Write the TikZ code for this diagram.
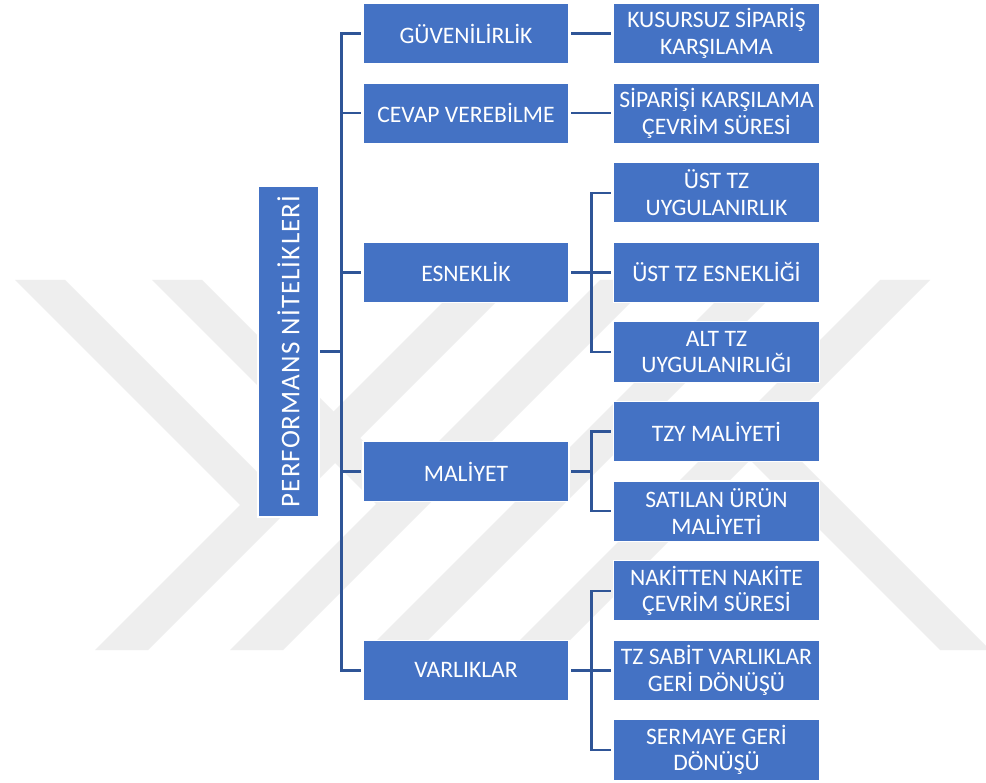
\documentclass[tikz,border=0pt]{standalone}
\usepackage{fontspec}
\setmainfont{Carlito}
\newfontfamily\rootfont[LetterSpace=4]{Carlito}
\definecolor{boxblue}{RGB}{68,114,196}
\definecolor{linkblue}{RGB}{47,85,151}
\definecolor{wm}{RGB}{238,238,238}
\tikzset{
  box/.style={fill=boxblue, draw=white, line width=1.2pt, text=white, align=center,
    inner sep=1pt, minimum width=206pt, minimum height=60.5pt,
    font=\fontsize{23.6}{26.7}\selectfont},
  rootbox/.style={fill=boxblue, draw=white, line width=1.2pt, text=white,
    inner sep=0pt, minimum width=61pt, minimum height=331pt},
  conn/.style={draw=linkblue, line width=2.5pt, line cap=rect},
  wmark/.style={fill=wm, draw=none}
}
\begin{document}
\begin{tikzpicture}[x=1pt,y=-1pt]
\fill[white] (0,0) rectangle (986,783);
\useasboundingbox (0,0) rectangle (986,783);
% watermark
\fill[wmark] (15,280) -- (65,280) -- (290,505) -- (240,505) -- cycle;
\fill[wmark] (465,280) -- (518,280) -- (148,650) -- (95,650) -- cycle;
\fill[wmark] (152,280) -- (202,280) -- (427,505) -- (377,505) -- cycle;
\fill[wmark] (600,280) -- (653,280) -- (283,650) -- (230,650) -- cycle;
\fill[wmark] (737,280) -- (788,280) -- (418,650) -- (367,650) -- cycle;
\fill[wmark] (880,280) -- (930,280) -- (560,650) -- (510,650) -- cycle;
\fill[wmark] (725,435) -- (775,435) -- (990,650) -- (940,650) -- cycle;
% coordinates for bus lines
\coordinate (tk) at (341.5,0);
\coordinate (br) at (591.5,0);
% root
\node[rootbox] (root) at (288.5,351.5) {\rotatebox{90}{\rootfont\fontsize{27}{30}\selectfont PERFORMANS NİTELİKLERİ}};
% level 1
\node[box] (g) at (466,33.6) {GÜVENİLİRLİK};
\node[box] (c) at (466,113.2) {CEVAP VEREBİLME};
\node[box] (e) at (466,272.4) {ESNEKLİK};
\node[box] (m) at (466,471.4) {MALİYET};
\node[box] (v) at (466,670.4) {VARLIKLAR};
% level 2
\node[box] (k1) at (716.5,33.6) {KUSURSUZ SİPARİŞ\\KARŞILAMA};
\node[box] (k2) at (716.5,113.2) {SİPARİŞİ KARŞILAMA\\ÇEVRİM SÜRESİ};
\node[box] (k3) at (716.5,192.8) {ÜST TZ\\UYGULANIRLIK};
\node[box] (k4) at (716.5,272.4) {ÜST TZ ESNEKLİĞİ};
\node[box] (k5) at (716.5,352) {ALT TZ\\UYGULANIRLIĞI};
\node[box] (k6) at (716.5,431.6) {TZY MALİYETİ};
\node[box] (k7) at (716.5,511.2) {SATILAN ÜRÜN\\MALİYETİ};
\node[box] (k8) at (716.5,590.8) {NAKİTTEN NAKİTE\\ÇEVRİM SÜRESİ};
\node[box] (k9) at (716.5,670.4) {TZ SABİT VARLIKLAR\\GERİ DÖNÜŞÜ};
\node[box] (k10) at (716.5,750) {SERMAYE GERİ\\DÖNÜŞÜ};
% root to trunk
\draw[conn, shorten <=2pt] (root.east) -- (root.east -| tk);
\draw[conn] (g.west -| tk) -- (v.west -| tk);
\foreach \n in {g,c,e,m,v}{
  \draw[conn, shorten >=3pt] (\n.west -| tk) -- (\n.west);
}
% single children
\draw[conn, shorten <=3pt, shorten >=3pt] (g.east) -- (k1.west);
\draw[conn, shorten <=3pt, shorten >=3pt] (c.east) -- (k2.west);
% brackets
\draw[conn, shorten <=3pt] (e.east) -- (e.east -| br);
\draw[conn] (k3.west -| br) -- (k5.west -| br);
\draw[conn, shorten <=3pt] (m.east) -- (m.east -| br);
\draw[conn] (k6.west -| br) -- (k7.west -| br);
\draw[conn, shorten <=3pt] (v.east) -- (v.east -| br);
\draw[conn] (k8.west -| br) -- (k10.west -| br);
\foreach \n in {k3,k4,k5,k6,k7,k8,k9,k10}{
  \draw[conn, shorten >=3pt] (\n.west -| br) -- (\n.west);
}
\end{tikzpicture}
\end{document}
